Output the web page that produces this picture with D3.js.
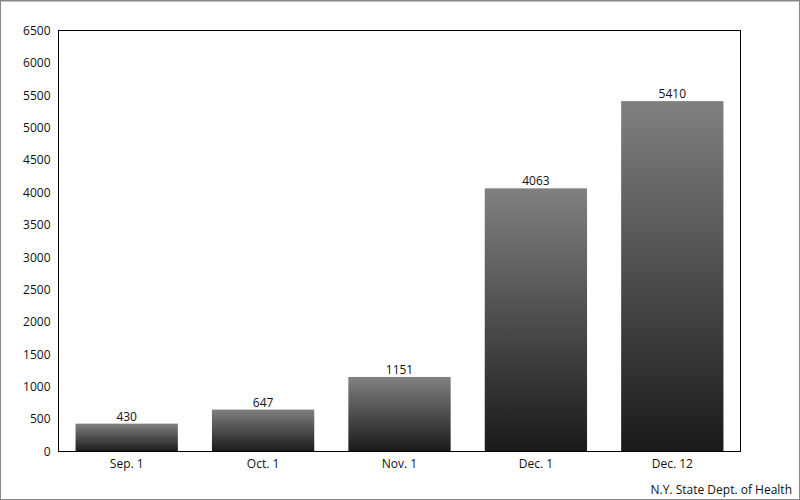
<!DOCTYPE html>
<html><head><meta charset="utf-8">
<script src="https://cdn.jsdelivr.net/npm/d3@7"></script>
<style>
html,body{margin:0;padding:0;background:#fff;}
svg{display:block;font-family:"Open Sans",sans-serif;}
</style></head>
<body>
<script>
const categories = ["Sep. 1","Oct. 1","Nov. 1","Dec. 1","Dec. 12"];
const values = [430, 647, 1151, 4063, 5410];
const yTicks = [0,500,1000,1500,2000,2500,3000,3500,4000,4500,5000,5500,6000,6500];
const source = "N.Y. State Dept. of Health";

const W = 800, H = 500;
const m = {left:58.5, top:30.5, right:740.5, bottom:451.5};
const svg = d3.select("body").append("svg").attr("width",W).attr("height",H);

svg.append("rect").attr("x",0.5).attr("y",0.5).attr("width",W-1).attr("height",H-1)
  .attr("fill","#fff").attr("stroke","#888").attr("stroke-width",1);
svg.append("line").attr("x1",0).attr("x2",W).attr("y1",1).attr("y2",1).attr("stroke","#888").attr("stroke-width",1);

const defs = svg.append("defs");
const g = defs.append("linearGradient").attr("id","barGrad").attr("x1",0).attr("y1",0).attr("x2",0).attr("y2",1);
g.append("stop").attr("offset","0%").attr("stop-color","#808080");
g.append("stop").attr("offset","100%").attr("stop-color","#1a1a1a");

const x = d3.scaleBand().domain(categories).range([m.left, m.right]).paddingInner(0.25).paddingOuter(0.125);
const y = d3.scaleLinear().domain([0,6500]).range([m.bottom, m.top]);

svg.selectAll("rect.bar").data(values).join("rect").attr("class","bar")
  .attr("x",(d,i)=>x(categories[i]))
  .attr("width",x.bandwidth())
  .attr("y",d=>y(d))
  .attr("height",d=>y(0)-y(d))
  .attr("fill","url(#barGrad)");

svg.selectAll("text.val").data(values).join("text").attr("class","val")
  .attr("x",(d,i)=>x(categories[i])+x.bandwidth()/2)
  .attr("y",d=>y(d)-3)
  .attr("text-anchor","middle").attr("font-size",12).attr("fill","#111")
  .text(d=>d);

// frame
svg.append("rect").attr("x",m.left).attr("y",m.top).attr("width",m.right-m.left).attr("height",m.bottom-m.top)
  .attr("fill","none").attr("stroke","#000").attr("stroke-width",1);

const yAxis = d3.axisLeft(y).tickValues(yTicks).tickSize(0).tickPadding(8).tickFormat(d3.format("d"));
const ya = svg.append("g").attr("transform",`translate(${m.left},0)`).call(yAxis);
ya.select(".domain").remove();
ya.selectAll("text").attr("font-size",12).attr("fill","#111").attr("font-family","Open Sans, sans-serif");

const xAxis = d3.axisBottom(x).tickSize(0).tickPadding(8);
const xa = svg.append("g").attr("transform",`translate(0,${m.bottom})`).call(xAxis);
xa.select(".domain").remove();
xa.selectAll("text").attr("font-size",12).attr("fill","#111").attr("font-family","Open Sans, sans-serif");

svg.append("text").attr("x",792).attr("y",494).attr("text-anchor","end")
  .attr("font-size",12).attr("fill","#111").text(source);
</script>
</body></html>
